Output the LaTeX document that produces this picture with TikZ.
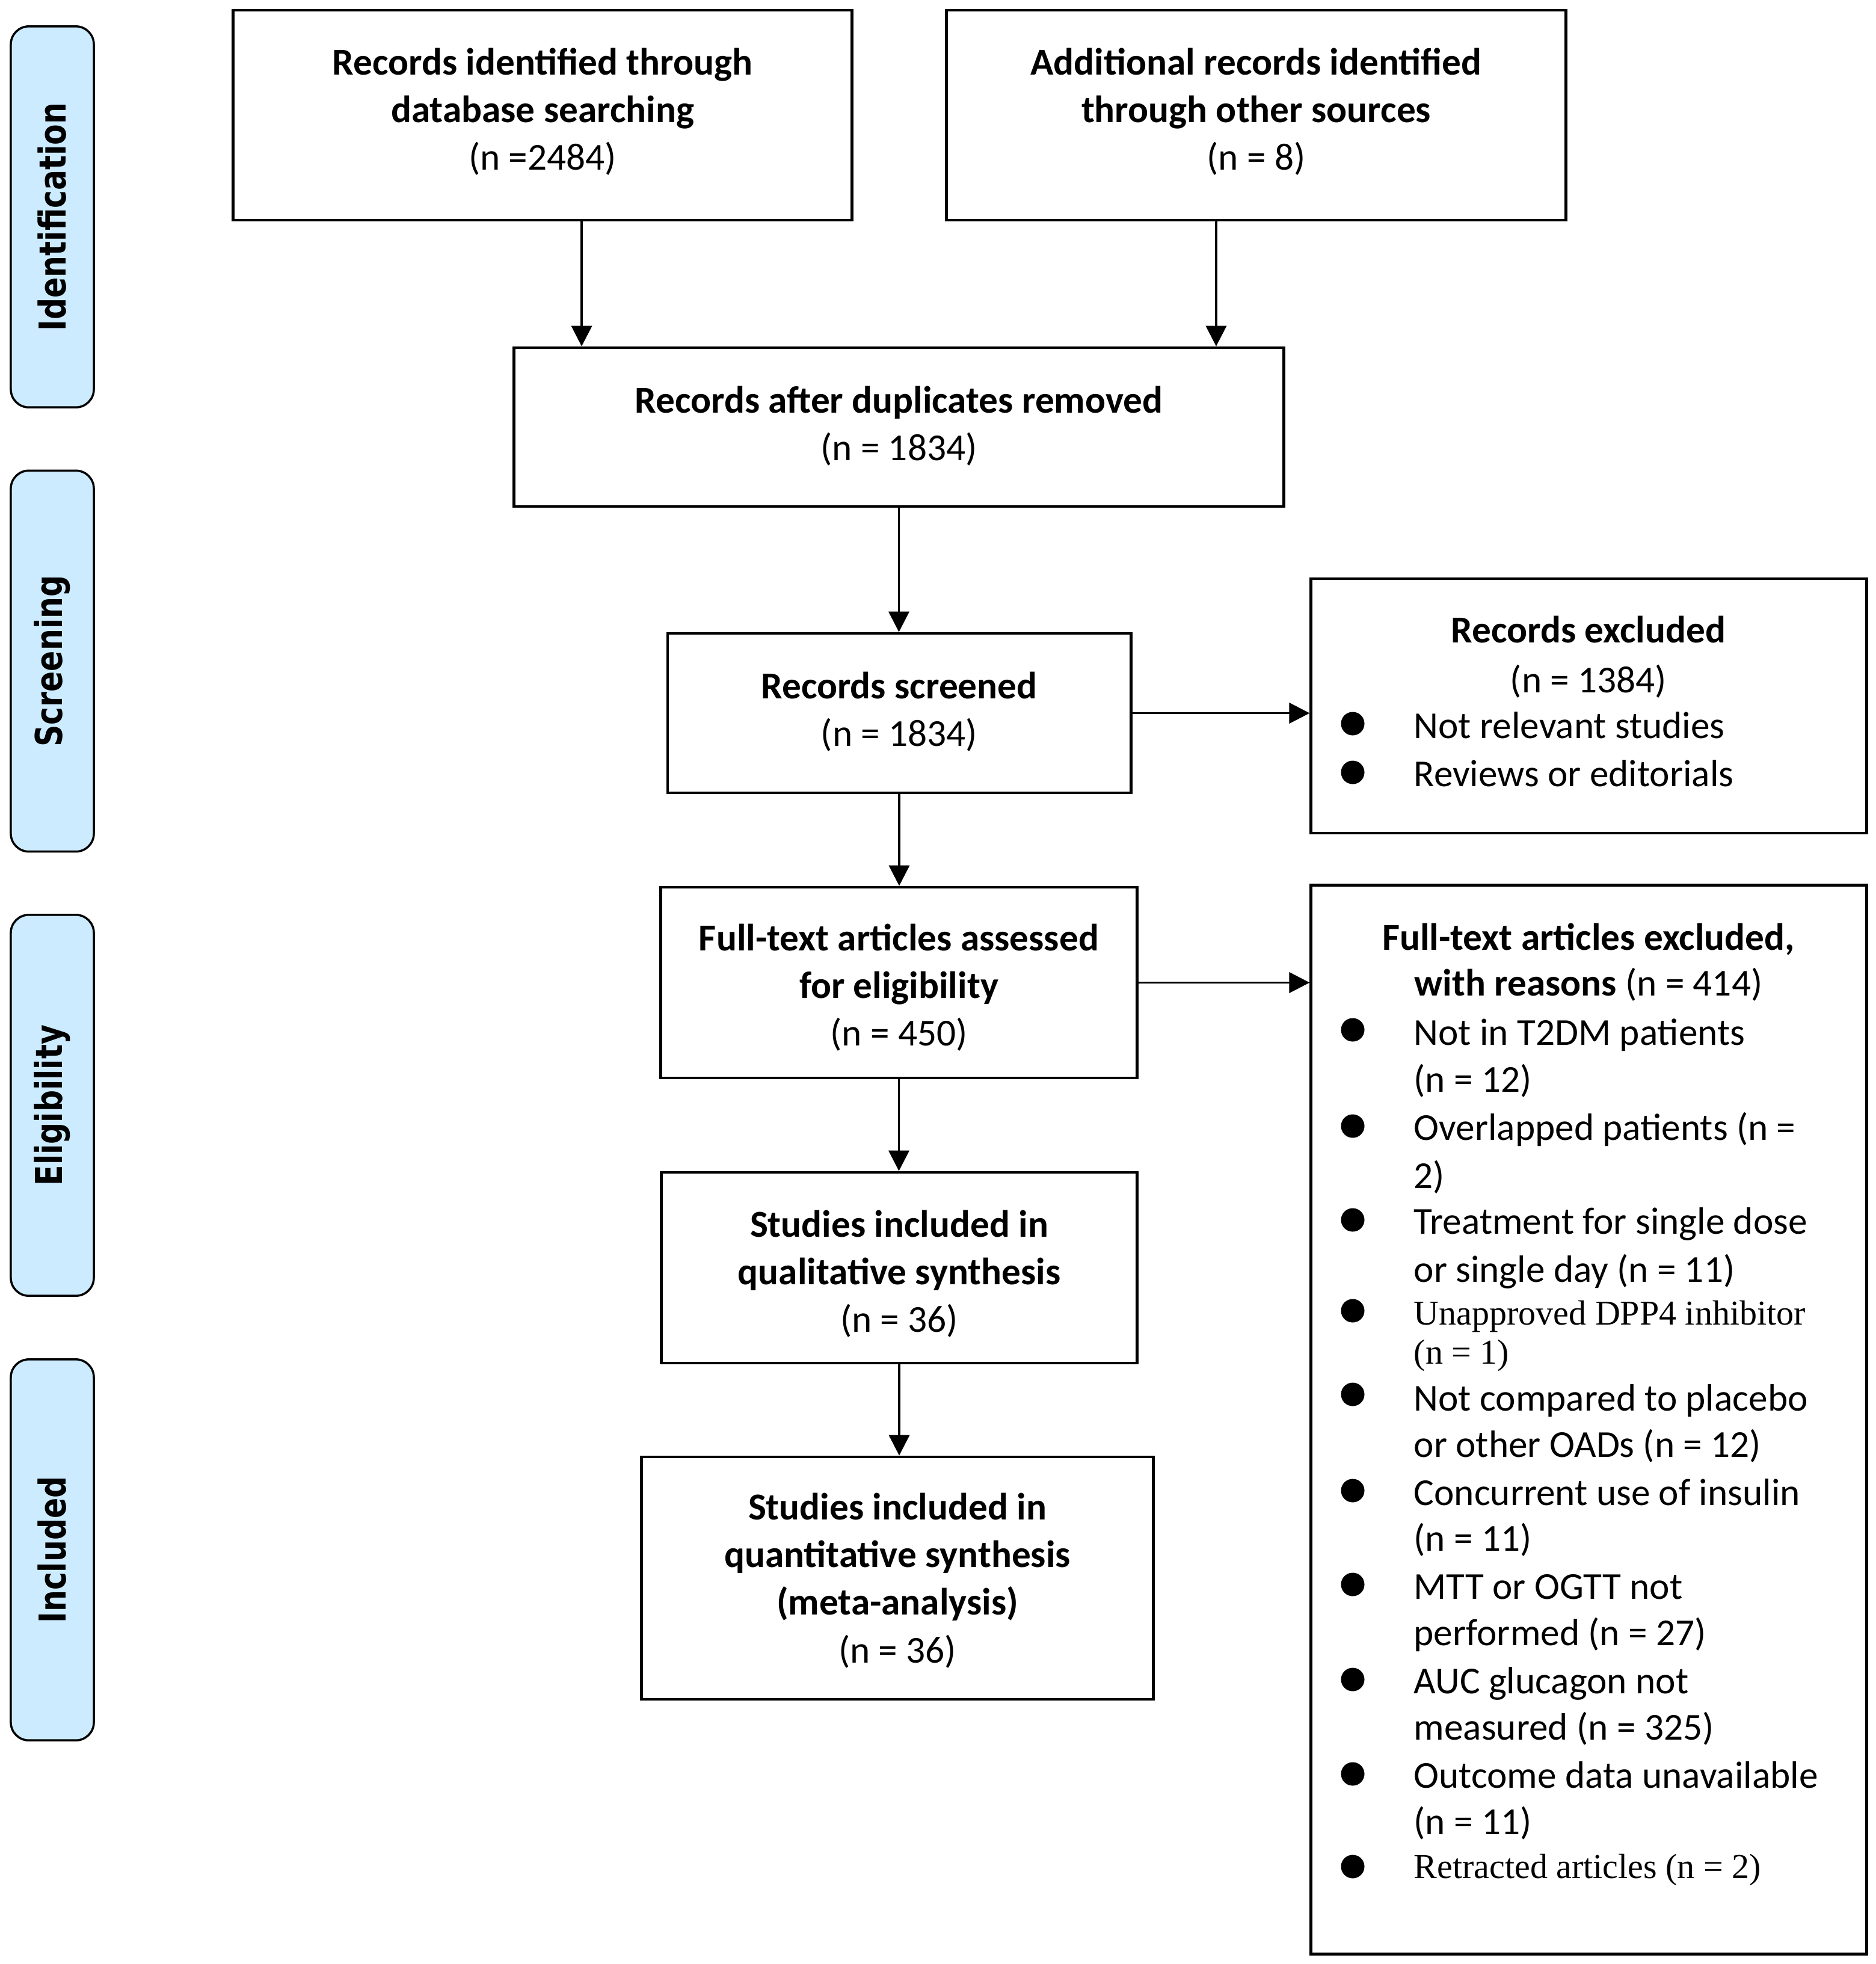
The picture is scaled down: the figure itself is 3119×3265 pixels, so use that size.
\documentclass[tikz,border=0pt]{standalone}
\usepackage{fontspec}
\usepackage{graphicx}
\setmainfont{Carlito}
\newfontfamily\tnr{Liberation Serif}
\newfontfamily\sidefont{DejaVu Sans}
\usetikzlibrary{arrows.meta}
\definecolor{sideblue}{RGB}{204,235,255}
\newcommand\btext[2]{\raisebox{#1}[\height][\depth]{\begin{tabular}{@{}c@{}}#2\end{tabular}}}
\begin{document}
\begin{tikzpicture}[x=0.01cm,y=-0.01cm,
  font=\fontsize{18}{22.5}\selectfont,
  box/.style={draw, line width=1.3pt, align=center, inner sep=0pt},
  side/.style={draw, line width=1pt, fill=sideblue, rounded corners=0.3cm, rotate=90,
    minimum width=6.33cm, minimum height=1.38cm, inner sep=0pt,
    font=\sidefont\bfseries\fontsize{17.5}{21}\selectfont},
  arr/.style={line width=1.1pt, -{Triangle[length=0.34cm,width=0.34cm]}},
  item/.style={anchor=base west, inner sep=0pt},
  titem/.style={anchor=base west, inner sep=0pt, font=\tnr\fontsize{16.5}{19.9}\selectfont},
  head/.style={anchor=base, inner sep=0pt},
  bul/.style={circle, fill, minimum size=0.39cm, inner sep=0pt}]
\useasboundingbox (0,0) rectangle (3119,3265);

% side labels
\node[side] (s1) at (87,360.5)  {\scalebox{0.82}[1]{Identification}};
\node[side] (s2) at (87,1099)   {\scalebox{0.82}[1]{Screening}};
\node[side] (s3) at (87,1837.5) {\scalebox{0.82}[1]{Eligibility}};
\node[side] (s4) at (87,2576.5) {\scalebox{0.82}[1]{Included}};

% main boxes
\node[box, minimum width=10.28cm, minimum height=3.49cm] (b1) at (902,191.5)
  {\btext{0.04cm}{\textbf{Records identified through}\\\textbf{database searching}\\(n =2484)}};
\node[box, minimum width=10.29cm, minimum height=3.49cm] (b2) at (2088.5,191.5)
  {\btext{0.04cm}{\textbf{Additional records identified}\\\textbf{through other sources}\\(n = 8)}};
\node[box, minimum width=12.79cm, minimum height=2.64cm] (b3) at (1494.5,710)
  {\btext{0cm}{\textbf{Records after duplicates removed}\\(n = 1834)}};
\node[box, minimum width=7.70cm, minimum height=2.65cm] (b4) at (1495,1185.5)
  {\btext{0cm}{\textbf{Records screened}\\(n = 1834)}};
\node[box, minimum width=7.91cm, minimum height=3.17cm] (b5) at (1494.5,1633.5)
  {\btext{-0.10cm}{\textbf{Full-text articles assessed}\\\textbf{for eligibility}\\(n = 450)}};
\node[box, minimum width=7.91cm, minimum height=3.17cm] (b6) at (1495,2107.5)
  {\btext{-0.12cm}{\textbf{Studies included in}\\\textbf{qualitative synthesis}\\(n = 36)}};
\node[box, minimum width=8.50cm, minimum height=4.03cm] (b7) at (1492,2623.5)
  {\btext{-0.06cm}{\textbf{Studies included in}\\\textbf{quantitative synthesis}\\\textbf{(meta-analysis)}\\(n = 36)}};
\node[box, minimum width=9.23cm, minimum height=4.23cm] (b8) at (2641.5,1173.5) {};
\node[box, minimum width=9.23cm, minimum height=17.76cm] (b9) at (2641.5,2360) {};

% connectors
\draw[arr] ([xshift=0.65cm]b1.south) -- ([xshift=0.65cm]b1.south |- b3.north);
\draw[arr] ([xshift=-0.665cm]b2.south) -- ([xshift=-0.665cm]b2.south |- b3.north);
\draw[arr] (b3.south) -- (b3.south |- b4.north);
\draw[arr] (b4.south) -- (b4.south |- b5.north);
\draw[arr] (b5.south) -- (b5.south |- b6.north);
\draw[arr] (b6.south) -- (b6.south |- b7.north);
\draw[arr] (b4.east) -- (b4.east -| b8.west);
\draw[arr] (b5.east) -- (b5.east -| b9.west);

% records excluded box content
\node[head] (e1) at (2641,1068) {\textbf{Records excluded}};
\node[head] (e2) at (2641,1151) {(n = 1384)};
\node[bul] (eb1) at (2249,1203) {};
\node[item] (e3) at (2350,1227) {Not relevant studies};
\node[bul] (eb2) at (2249,1284) {};
\node[item] (e4) at (2350,1307) {Reviews or editorials};

% full-text excluded box content
\node[head] (f1) at (2641,1579) {\textbf{Full-text articles excluded,}};
\node[head] (f2) at (2641,1655) {\textbf{with reasons} (n = 414)};
\node[bul] (fb1) at (2249,1712) {};
\node[item] (f3) at (2350,1737) {Not in T2DM patients};
\node[item] (f4) at (2350,1815) {(n = 12)};
\node[bul] (fb2) at (2249,1872) {};
\node[item] (f5) at (2350,1895) {Overlapped patients (n =};
\node[item] (f6) at (2350,1975) {2)};
\node[bul] (fb3) at (2249,2028) {};
\node[item] (f7) at (2350,2051) {Treatment for single dose};
\node[item] (f8) at (2350,2131) {or single day (n = 11)};
\node[bul] (fb4) at (2249,2179) {};
\node[titem] (f9) at (2350,2202) {Unapproved DPP4 inhibitor};
\node[titem] (f10) at (2350,2267) {(n = 1)};
\node[bul] (fb5) at (2249,2318) {};
\node[item] (f11) at (2350,2345) {Not compared to placebo};
\node[item] (f12) at (2350,2422) {or other OADs (n = 12)};
\node[bul] (fb6) at (2249,2478) {};
\node[item] (f13) at (2350,2502) {Concurrent use of insulin};
\node[item] (f14) at (2350,2578) {(n = 11)};
\node[bul] (fb7) at (2249,2634) {};
\node[item] (f15) at (2350,2658) {MTT or OGTT not};
\node[item] (f16) at (2350,2735) {performed (n = 27)};
\node[bul] (fb8) at (2249,2792) {};
\node[item] (f17) at (2350,2815) {AUC glucagon not};
\node[item] (f18) at (2350,2892) {measured (n = 325)};
\node[bul] (fb9) at (2249,2949) {};
\node[item] (f19) at (2350,2972) {Outcome data unavailable};
\node[item] (f20) at (2350,3049) {(n = 11)};
\node[bul] (fb10) at (2249,3103) {};
\node[titem] (f21) at (2350,3122) {Retracted articles (n = 2)};
\end{tikzpicture}
\end{document}
